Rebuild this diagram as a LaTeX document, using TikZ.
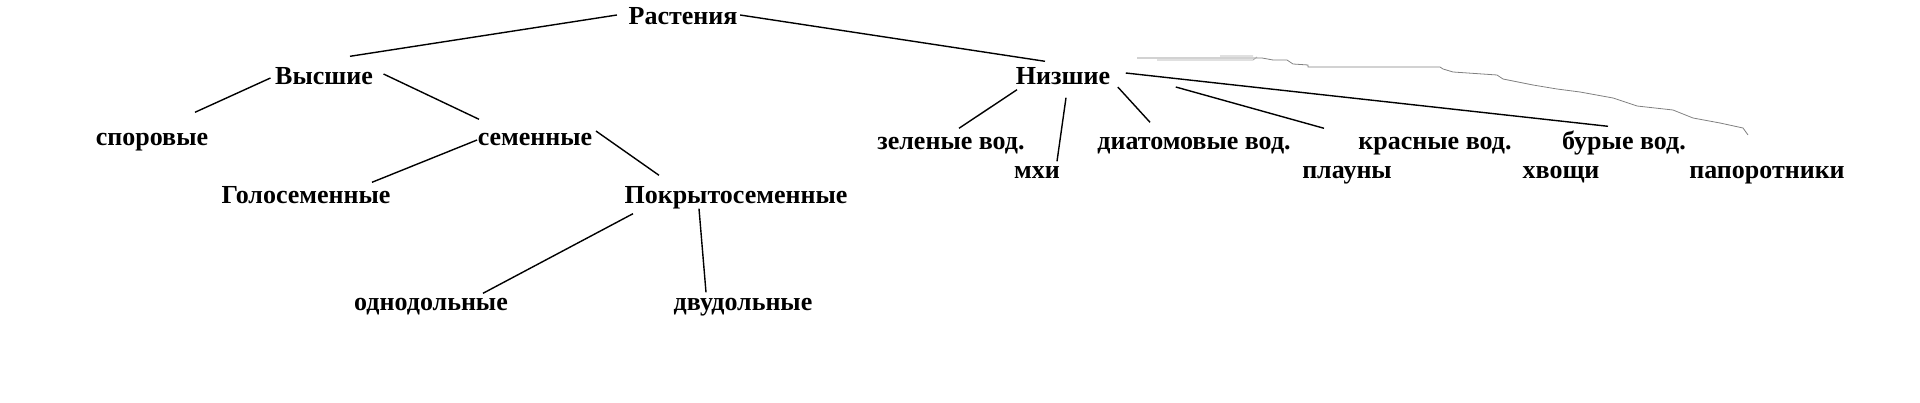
\documentclass[tikz,border=0pt]{standalone}
\usepackage{fontspec}
\setmainfont{Liberation Serif}
\usepackage{tikz}

\begin{document}
\begin{tikzpicture}[x=1pt,y=-1pt,word/.style={font=\bfseries\fontsize{26}{30}\selectfont,inner sep=0pt,anchor=base,text height=17pt,text depth=5pt},line width=1.4pt]
\useasboundingbox (0,0) rectangle (1920,403);

\node at (683,25) [word] (Rast) {Растения};
\node at (324,85) [word] (Vys) {Высшие};
\node at (152,146) [word] (Spor) {споровые};
\node at (535,146) [word] (Sem) {семенные};
\node at (306,204) [word] (Golo) {Голосеменные};
\node at (736,204) [word] (Pokr) {Покрытосеменные};
\node at (431,311) [word] (Odno) {однодольные};
\node at (743,311) [word] (Dvu) {двудольные};
\node at (1063,85) [word] (Niz) {Низшие};
\node at (951,150) [word] (Zel) {зеленые вод.};
\node at (1037,179) [word] (Mhi) {мхи};
\node at (1194,150) [word] (Diat) {диатомовые вод.};
\node at (1435,150) [word] (Kras) {красные вод.};
\node at (1624,150) [word] (Bur) {бурые вод.};
\node at (1347,179) [word] (Plau) {плауны};
\node at (1561,179) [word] (Hvo) {хвощи};
\node at (1767,179) [word] (Papo) {папоротники};

\draw ([shift={(-11,-4)}]Rast.west) -- ([shift={(26,-11)}]Vys.north);
\draw ([shift={(2,-4)}]Rast.east) -- ([shift={(-18,-6)}]Niz.north);
\draw ([shift={(-4,-1)}]Vys.west) -- ([shift={(43,-16)}]Spor.north);
\draw ([shift={(10,-5)}]Vys.east) -- ([shift={(-56,-9)}]Sem.north);
\draw (Sem.west) -- ([shift={(66,-4)}]Golo.north);
\draw ([shift={(3,-9)}]Sem.east) -- ([shift={(-77,-11)}]Pokr.north);
\draw ([shift={(-103,4)}]Pokr.south) -- ([shift={(52,0)}]Odno.north);
\draw ([shift={(-37,-1)}]Pokr.south) -- ([shift={(-37,-1)}]Dvu.north);
\draw ([shift={(-46,-1)}]Niz.south) -- ([shift={(8,-4)}]Zel.north);
\draw ([shift={(3,7)}]Niz.south) -- ([shift={(20,0)}]Mhi.north);
\draw ([shift={(7,8)}]Niz.east) -- ([shift={(-44,-10)}]Diat.north);
\draw ([shift={(65,8)}]Niz.east) -- ([shift={(-111,-4)}]Kras.north);
\draw ([shift={(15,-6)}]Niz.east) -- ([shift={(-16,-6)}]Bur.north);

% stray gray trace
\draw[gray,line width=0.8pt] (1137,58) -- (1262,58) -- (1273,60) -- (1287,60) -- (1293,64) -- (1308,65) -- (1308,67) -- (1440,67) -- (1443,69) -- (1453,72) -- (1497,75) -- (1503,79) -- (1533,85) -- (1557,89) -- (1580,92) -- (1613,98) -- (1637,106) -- (1673,110) -- (1693,118) -- (1720,123) -- (1743,128) -- (1748,135);
\draw[gray!70,line width=0.8pt] (1157,60) -- (1253,60) -- (1257,57)
	(1220,56) -- (1253,56);

\end{tikzpicture}
\end{document}
